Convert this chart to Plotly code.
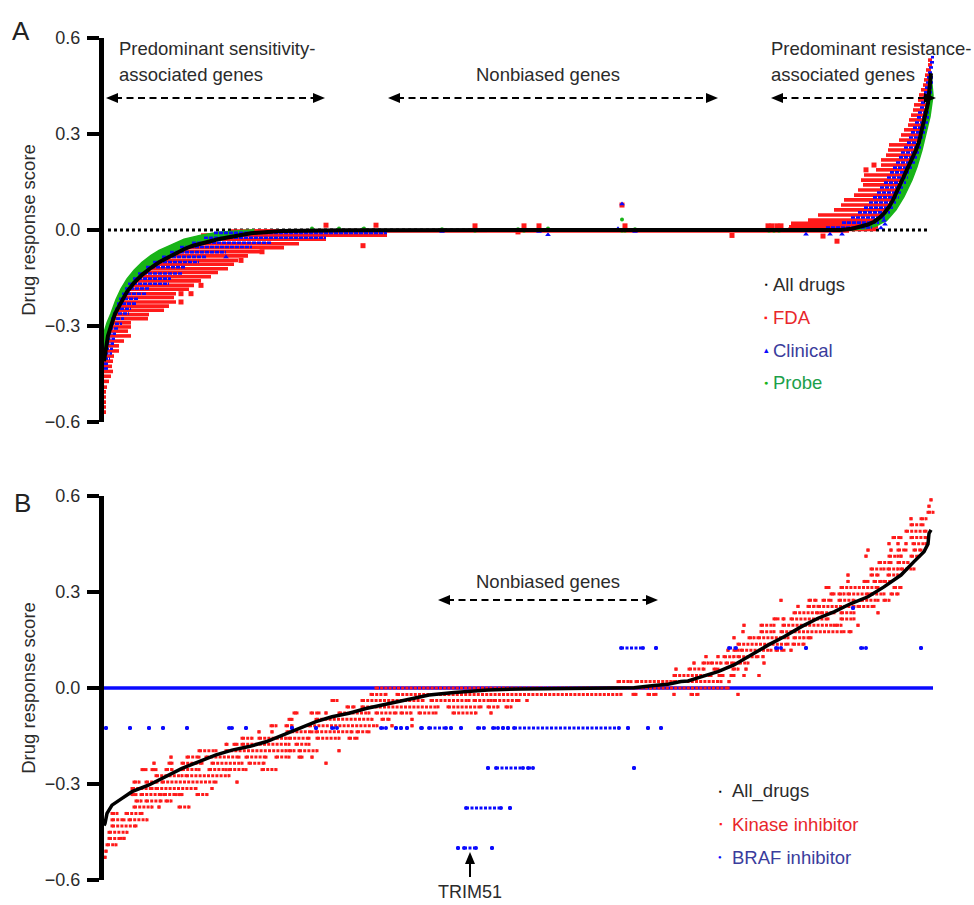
import plotly.graph_objects as go

# ======================= DATA =======================
# ---- Panel A: all drugs curve (gene rank vs drug response score) ----
ALL_A_RANK = [0, 1, 2, 4, 7, 11, 17, 23, 30, 38, 47, 55, 64, 72, 80, 88, 97, 105, 114, 122,
              130, 147, 164, 177, 240, 295, 400, 600, 737, 748, 757, 764, 770, 775, 780, 785,
              789, 793, 797, 801, 805, 809, 812, 815, 817, 820, 822, 824, 825, 826, 827]
ALL_A_SCORE = [-0.41, -0.385, -0.36, -0.33, -0.3, -0.262, -0.227, -0.193, -0.165, -0.14, -0.118,
               -0.101, -0.086, -0.072, -0.06, -0.05, -0.042, -0.035, -0.029, -0.024, -0.019,
               -0.01, -0.006, -0.003, -0.001, 0.0, 0.0, 0.0, 0.0, 0.004, 0.010, 0.017, 0.026,
               0.037, 0.052, 0.072, 0.094, 0.12, 0.146, 0.172, 0.198, 0.224, 0.25, 0.276, 0.302,
               0.334, 0.365, 0.396, 0.427, 0.46, 0.49]

# FDA drugs: rows of scores spanning a rank interval (sensitivity side)
FDA_SENS_LEVEL = [-0.003, -0.016, -0.029, -0.043, -0.055, -0.068, -0.081, -0.095, -0.107, -0.121,
                  -0.133, -0.146, -0.159, -0.173, -0.185, -0.199, -0.211, -0.225, -0.238, -0.251,
                  -0.264, -0.277, -0.290, -0.303, -0.316, -0.331, -0.347, -0.362, -0.378, -0.394,
                  -0.410, -0.426, -0.442, -0.457, -0.473, -0.491, -0.506, -0.522, -0.538, -0.553,
                  -0.569]
FDA_SENS_START = [127, 97, 87, 75, 69, 62, 55, 50, 44, 39, 35, 32, 29, 25, 23, 20, 18, 15, 14, 12,
                  10, 9, 7, 6, 5, 4, 3, 2, 2, 1, 0, 0, 0, 0, 0, 0, 0, 0, 0, 0, 0]
FDA_SENS_END = [283, 283, 222, 195, 180, 157, 144, 134, 130, 124, 114, 107, 97, 90, 85, 72, 70, 72,
                65, 60, 45, 44, 27, 27, 24, 27, 20, 15, 15, 10, 9, 8, 9, 7, 5, 3, 2, 2, 2, 2, 2]
# FDA drugs: resistance side
FDA_RES_LEVEL = [0.531, 0.516, 0.500, 0.484, 0.469, 0.453, 0.438, 0.422, 0.406, 0.391, 0.375,
                 0.359, 0.344, 0.328, 0.313, 0.297, 0.281, 0.266, 0.250, 0.234, 0.219, 0.203,
                 0.188, 0.172, 0.156, 0.141, 0.125, 0.109, 0.094, 0.078, 0.063, 0.047, 0.031,
                 0.021, 0.010, 0.002]
FDA_RES_START = [824, 824, 822, 821, 820, 819, 817, 815, 814, 810, 809, 807, 805, 804, 800, 797,
                 795, 785, 784, 782, 777, 777, 772, 760, 757, 759, 754, 750, 740, 737, 730, 714,
                 704, 687, 685, 684]
FDA_RES_END = [828, 828, 827, 827, 826, 826, 825, 825, 824, 824, 823, 822, 821, 820, 818, 817,
               815, 814, 812, 810, 808, 806, 803, 801, 798, 796, 793, 791, 789, 786, 783, 778,
               775, 775, 774, 772]
FDA_ZERO_START, FDA_ZERO_END = 150, 745
FDA_DOT_RANK = [158, 137, 97, 77, 87, 77, 259, 222, 272, 371, 414, 420, 435, 518, 521, 628, 664,
                668, 673, 677, 719, 733, 762, 770]
FDA_DOT_SCORE = [-0.068, -0.095, -0.173, -0.199, -0.199, -0.225, -0.049, 0.015, 0.015, 0.013,
                 -0.006, 0.013, 0.013, 0.078, 0.013, -0.017, 0.013, 0.013, 0.013, 0.013, -0.019,
                 -0.035, 0.188, 0.203]

# Clinical drugs
CLIN_SENS_LEVEL = [-0.009, -0.024, -0.040, -0.053, -0.069, -0.084, -0.100, -0.116, -0.136, -0.152,
                   -0.168, -0.183, -0.199, -0.215, -0.230, -0.246, -0.261, -0.277, -0.293, -0.308,
                   -0.324, -0.340, -0.355, -0.371, -0.386, -0.402, -0.418, -0.433]
CLIN_SENS_START = [110, 100, 88, 76, 66, 58, 49, 42, 34, 29, 24, 21, 18, 15, 13, 11, 9, 7, 6, 5,
                   3.5, 2.5, 1.5, 1, 0.5, 0, 0, 0]
CLIN_SENS_END = [283, 222, 168, 148, 122, 102, 95, 82, 78, 67, 65, 45, 42, 35, 32, 27, 25, 20, 18,
                 15, 12, 11, 10, 9, 8, 6, 5, 4]
CLIN_RES_LEVEL = [0.540, 0.524, 0.508, 0.492, 0.477, 0.461, 0.445, 0.430, 0.414, 0.398, 0.383,
                  0.367, 0.352, 0.336, 0.320, 0.305, 0.289, 0.273, 0.258, 0.242, 0.227, 0.211,
                  0.195, 0.180, 0.164, 0.148, 0.133, 0.117, 0.102, 0.086, 0.070, 0.055, 0.039,
                  0.023, 0.008]
CLIN_RES_START = [827, 826, 825, 824, 823, 822, 821, 820, 819, 817, 816, 814, 813, 811, 809, 807,
                  805, 803, 800, 797, 795, 792, 789, 786, 783, 780, 776, 773, 769, 765, 760, 754,
                  747, 738, 722]
CLIN_RES_END = [830, 830, 830, 829, 829, 829, 828, 828, 828, 827, 826, 825, 825, 824, 822, 821,
                820, 818, 817, 815, 813, 811, 809, 806, 804, 802, 799, 797, 795, 792, 789, 786,
                782, 775, 768]
CLIN_DOT_RANK = [122, 338, 435, 444, 518, 514, 531, 702, 726, 738, 777, 780, 781]
CLIN_DOT_SCORE = [-0.084, -0.005, -0.005, -0.015, 0.081, 0.004, -0.005, -0.013, -0.013, -0.013,
                  0.006, 0.030, 0.018]

# Probe drugs: band edges next to the curve, plus scattered points
PROBE_SENS_RANK = [0, 3, 7, 12, 17, 23, 30, 38, 47, 55, 64, 72, 80, 97, 114, 150]
PROBE_SENS_SCORE = [-0.32, -0.29, -0.26, -0.217, -0.184, -0.153, -0.126, -0.101, -0.079, -0.064,
                    -0.051, -0.039, -0.029, -0.016, -0.007, 0.001]
PROBE_RES_RANK = [745, 762, 772, 783, 792, 800, 808, 813, 818, 822, 826, 829]
PROBE_RES_SCORE = [0.0, 0.004, 0.012, 0.031, 0.063, 0.104, 0.156, 0.198, 0.25, 0.302, 0.354, 0.42]
PROBE_DOT_RANK = [208, 235, 260, 234, 259, 338, 371, 414, 420, 444, 518, 518, 521, 531, 628, 665,
                  670, 675]
PROBE_DOT_SCORE = [0.005, 0.005, 0.005, 0.0, 0.002, 0.002, -0.002, 0.002, -0.002, 0.005, 0.033,
                   -0.002, -0.002, 0.002, 0.0, -0.002, -0.002, -0.002]

# ---- Panel B ----
ALL_B_RANK = [0, 1, 3, 8, 18, 28, 45, 62, 78, 95, 112, 128, 145, 162, 178, 195, 212, 228, 245,
              262, 278, 295, 312, 325, 350, 384, 417, 450, 484, 517, 530, 550, 564, 577, 584, 597,
              614, 630, 647, 664, 680, 697, 714, 730, 747, 764, 780, 797, 810, 820, 824, 825, 827]
ALL_B_SCORE = [-0.43, -0.423, -0.392, -0.366, -0.345, -0.324, -0.303, -0.277, -0.251, -0.23,
               -0.209, -0.194, -0.183, -0.168, -0.147, -0.126, -0.105, -0.09, -0.079, -0.064,
               -0.053, -0.043, -0.032, -0.022, -0.014, -0.006, -0.003, -0.002, -0.002, 0.0,
               0.001, 0.008, 0.012, 0.02, 0.022, 0.035, 0.051, 0.072, 0.103, 0.134, 0.16, 0.191,
               0.218, 0.238, 0.264, 0.285, 0.316, 0.353, 0.395, 0.426, 0.45, 0.483, 0.494]

# Kinase inhibitors: (score level, [rank intervals])
KINASE_ROWS = [
    (0.588, [(827, 827)]),
    (0.568, [(825, 825)]),
    (0.549, [(824, 829)]),
    (0.529, [(807, 807), (817, 822)]),
    (0.510, [(807, 819)]),
    (0.490, [(802, 822)]),
    (0.470, [(789, 797), (807, 822)]),
    (0.451, [(785, 785), (794, 794), (802, 802), (809, 822)]),
    (0.431, [(764, 764), (787, 787), (794, 802), (810, 817)]),
    (0.412, [(762, 762), (785, 794), (797, 797), (807, 815)]),
    (0.392, [(775, 787), (794, 804)]),
    (0.372, [(767, 780), (784, 794), (797, 810)]),
    (0.353, [(744, 744), (767, 774), (784, 794)]),
    (0.333, [(744, 744), (760, 764), (770, 777), (780, 787)]),
    (0.314, [(722, 725), (737, 774), (790, 797)]),
    (0.294, [(727, 730), (735, 740), (744, 764), (767, 780), (787, 794)]),
    (0.274, [(677, 677), (705, 712), (719, 727), (735, 750), (757, 774), (780, 785)]),
    (0.255, [(694, 694), (704, 710), (714, 750), (754, 770)]),
    (0.235, [(690, 714), (717, 730), (737, 750), (774, 774)]),
    (0.216, [(670, 674), (679, 680), (687, 724), (737, 750)]),
    (0.196, [(640, 640), (657, 670), (679, 730), (732, 737), (754, 754)]),
    (0.176, [(639, 639), (657, 670), (677, 740), (745, 747)]),
    (0.157, [(630, 630), (645, 650), (654, 684), (690, 700), (704, 707)]),
    (0.137, [(634, 684), (689, 700)]),
    (0.118, [(624, 624), (630, 634), (637, 667), (672, 680), (687, 687)]),
    (0.098, [(602, 602), (614, 614), (620, 630), (634, 654), (659, 659)]),
    (0.078, [(590, 590), (599, 604), (607, 617), (622, 630), (635, 644), (660, 660)]),
    (0.059, [(572, 572), (585, 600), (610, 614), (629, 634), (642, 642)]),
    (0.039, [(570, 607), (615, 619), (627, 630), (640, 640), (655, 655)]),
    (0.020, [(514, 527), (532, 567), (570, 617), (625, 625)]),
    (0.000, [(272, 624)]),
    (-0.020, [(267, 282), (293, 517), (529, 532), (544, 552), (570, 570), (587, 594), (634, 634)]),
    (-0.039, [(228, 233), (258, 319), (327, 365), (370, 387), (390, 415), (423, 423)]),
    (-0.059, [(243, 250), (258, 334), (344, 377), (384, 394), (402, 407)]),
    (-0.078, [(190, 193), (207, 215), (222, 222), (235, 265), (272, 292), (297, 307), (315, 332),
              (349, 372), (387, 387)]),
    (-0.098, [(185, 188), (212, 268), (278, 285), (308, 308)]),
    (-0.118, [(167, 172), (182, 188), (205, 273), (288, 288), (308, 308)]),
    (-0.137, [(155, 155), (168, 168), (183, 208), (212, 248), (253, 265)]),
    (-0.157, [(138, 148), (155, 182), (185, 205), (213, 235), (245, 253)]),
    (-0.176, [(122, 123), (130, 133), (138, 185), (192, 205)]),
    (-0.196, [(95, 112), (122, 182), (185, 190), (195, 213), (235, 235)]),
    (-0.216, [(67, 67), (83, 95), (102, 135), (142, 162), (172, 185), (195, 198), (208, 208)]),
    (-0.235, [(50, 50), (65, 68), (78, 98), (108, 138), (145, 160), (222, 222)]),
    (-0.255, [(38, 42), (48, 52), (62, 68), (78, 95), (105, 122), (125, 142), (158, 172)]),
    (-0.274, [(52, 78), (82, 125)]),
    (-0.294, [(30, 35), (42, 53), (58, 112), (133, 133)]),
    (-0.314, [(28, 48), (52, 92), (108, 108)]),
    (-0.333, [(28, 32), (37, 57), (60, 72), (75, 78), (93, 103)]),
    (-0.353, [(32, 37), (42, 57), (62, 67)]),
    (-0.372, [(30, 48), (55, 55), (75, 85)]),
    (-0.392, [(8, 13), (22, 38)]),
    (-0.412, [(8, 20), (25, 43)]),
    (-0.431, [(8, 32)]),
    (-0.451, [(5, 23)]),
    (-0.470, [(5, 17), (20, 20)]),
    (-0.490, [(3, 12)]),
    (-0.510, [(2, 2)]),
    (-0.529, [(1, 1)]),
]

# BRAF inhibitors
BRAF_ZERO_START, BRAF_ZERO_END = 0, 829
BRAF_ROWS = [
    (0.250, [(749, 749)]),
    (0.125, [(517, 539), (552, 552), (625, 632), (672, 677), (702, 702), (757, 762), (817, 817)]),
    (-0.125, [(2, 2), (26, 26), (45, 45), (59, 59), (83, 83), (125, 128), (142, 142), (188, 188),
              (212, 212), (228, 233), (277, 282), (292, 292), (297, 297), (303, 303), (317, 318),
              (325, 342), (347, 347), (357, 357), (374, 380), (389, 394), (399, 399), (404, 404),
              (410, 515), (524, 524), (544, 544), (557, 557)]),
    (-0.250, [(384, 384), (392, 419), (424, 429), (530, 530)]),
    (-0.375, [(362, 397), (406, 406)]),
    (-0.500, [(354, 354), (360, 372), (388, 388)]),
]

Y_TICKS = [-0.6, -0.3, 0.0, 0.3, 0.6]
Y_TICK_TEXT = ["\u22120.6", "\u22120.3", "0.0", "0.3", "0.6"]

# ======================= HELPERS =======================
FONT = "Liberation Sans, Arial, Helvetica, sans-serif"
RED = "#ff1a1a"
BLUE = "#0a0aff"
GREEN = "#18b418"
TXT = "#2b2b2b"

W, H = 974, 905
L, R, T, B = 104, 38, 38, 25
PW, PH = W - L - R, H - T - B


def px2x(px):
    return (px - L) / PW


def py2y(py):
    return 1 - (py - T) / PH


def seg_xy(levels, starts, ends):
    xs, ys = [], []
    for lv, s, e in zip(levels, starts, ends):
        xs += [s, e, None]
        ys += [lv, lv, None]
    return xs, ys


def rows_xy(rows):
    xs, ys = [], []
    for lv, segs in rows:
        for a, b in segs:
            xs += [a, b, None]
            ys += [lv, lv, None]
    return xs, ys


def band(edge_r, edge_s, cur_r, cur_s, lo, hi):
    pts = [(r, s) for r, s in zip(cur_r, cur_s) if lo <= r <= hi]
    xs = list(edge_r) + [p[0] for p in reversed(pts)]
    ys = list(edge_s) + [p[1] for p in reversed(pts)]
    return xs, ys


fig = go.Figure()

# ======================= PANEL A =======================
A = dict(xaxis="x", yaxis="y")
fig.add_trace(go.Scatter(x=[4, 826], y=[0, 0], mode="lines",
                         line=dict(color="black", width=3, dash="3px,3px"), **A))
x, y = seg_xy(FDA_SENS_LEVEL, FDA_SENS_START, FDA_SENS_END)
x2, y2 = seg_xy(FDA_RES_LEVEL, FDA_RES_START, FDA_RES_END)
x3, y3 = seg_xy([-0.003], [FDA_ZERO_START], [FDA_ZERO_END])
fig.add_trace(go.Scatter(x=x + x2 + x3, y=y + y2 + y3, mode="lines",
                         line=dict(color=RED, width=3.6), connectgaps=False, **A))
fig.add_trace(go.Scatter(x=FDA_DOT_RANK, y=FDA_DOT_SCORE, mode="markers",
                         marker=dict(color=RED, symbol="square", size=5, line=dict(width=0)), **A))
bx, by = band(PROBE_SENS_RANK, PROBE_SENS_SCORE, ALL_A_RANK, ALL_A_SCORE, 0, 150)
fig.add_trace(go.Scatter(x=bx, y=by, mode="lines", fill="toself", fillcolor=GREEN,
                         line=dict(color=GREEN, width=1.5), **A))
bx, by = band(PROBE_RES_RANK, PROBE_RES_SCORE, ALL_A_RANK, ALL_A_SCORE, 745, 830)
fig.add_trace(go.Scatter(x=bx, y=by, mode="lines", fill="toself", fillcolor=GREEN,
                         line=dict(color=GREEN, width=1.5), **A))
fig.add_trace(go.Scatter(x=PROBE_DOT_RANK, y=PROBE_DOT_SCORE, mode="markers",
                         marker=dict(color=GREEN, symbol="circle", size=4, line=dict(width=0)), **A))
x, y = seg_xy(CLIN_SENS_LEVEL, CLIN_SENS_START, CLIN_SENS_END)
x2, y2 = seg_xy(CLIN_RES_LEVEL, CLIN_RES_START, CLIN_RES_END)
fig.add_trace(go.Scatter(x=x + x2, y=y + y2, mode="lines",
                         line=dict(color=BLUE, width=2.6, dash="4px,1px"), connectgaps=False, **A))
fig.add_trace(go.Scatter(x=CLIN_DOT_RANK, y=CLIN_DOT_SCORE, mode="markers",
                         marker=dict(color=BLUE, symbol="triangle-up", size=5, line=dict(width=0)), **A))
fig.add_trace(go.Scatter(x=ALL_A_RANK, y=ALL_A_SCORE, mode="lines",
                         line=dict(color="black", width=4), **A))

# ======================= PANEL B =======================
Bx = dict(xaxis="x2", yaxis="y2")
fig.add_trace(go.Scatter(x=[BRAF_ZERO_START, BRAF_ZERO_END], y=[0, 0], mode="lines",
                         line=dict(color=BLUE, width=3.5), **Bx))
x, y = rows_xy(KINASE_ROWS)
fig.add_trace(go.Scatter(x=x, y=y, mode="lines+markers", connectgaps=False,
                         line=dict(color=RED, width=3, dash="3px,1.2px"),
                         marker=dict(color=RED, symbol="square", size=3, line=dict(width=0)), **Bx))
x, y = rows_xy(BRAF_ROWS)
fig.add_trace(go.Scatter(x=x, y=y, mode="lines+markers", connectgaps=False,
                         line=dict(color=BLUE, width=3, dash="3px,1.5px"),
                         marker=dict(color=BLUE, symbol="circle", size=4, line=dict(width=0)), **Bx))
fig.add_trace(go.Scatter(x=ALL_B_RANK, y=ALL_B_SCORE, mode="lines",
                         line=dict(color="black", width=3.5), **Bx))

# ======================= AXES =======================
h_a = 384 / PH
yax = dict(range=[-0.6, 0.6], tickvals=Y_TICKS, ticktext=Y_TICK_TEXT, showline=True,
           linewidth=5, linecolor="black", ticks="outside", ticklen=12, tickwidth=4,
           tickcolor="black", showgrid=False, zeroline=False, fixedrange=True,
           tickfont=dict(family=FONT, size=18, color=TXT), ticklabelstandoff=3,
           title=dict(text="Drug response score", font=dict(family=FONT, size=18.5, color=TXT),
                      standoff=6))
xax = dict(range=[0, 832], visible=False, showgrid=False, zeroline=False)
fig.update_layout(
    width=W, height=H, margin=dict(l=L, r=R, t=T, b=B),
    paper_bgcolor="white", plot_bgcolor="white", showlegend=False,
    xaxis=dict(xax, anchor="y"), yaxis=dict(yax, domain=[1 - h_a, 1], anchor="x"),
    xaxis2=dict(xax, anchor="y2"), yaxis2=dict(yax, domain=[0, h_a], anchor="x2"),
    font=dict(family=FONT, color=TXT),
)

# ======================= ANNOTATIONS =======================
ann = []
shapes = []
FS = 18.5


def text(px, py, s, size=FS, color=TXT, xanchor="left"):
    ann.append(dict(x=px2x(px), y=py2y(py), xref="paper", yref="paper", text=s,
                    showarrow=False, xanchor=xanchor, yanchor="middle",
                    font=dict(family=FONT, size=size, color=color)))


def dashed_arrow(x1, x2, py):
    shapes.append(dict(type="line", xref="paper", yref="paper",
                       x0=px2x(x1 + 9), x1=px2x(x2 - 9), y0=py2y(py), y1=py2y(py),
                       line=dict(color="black", width=2, dash="7px,4.5px")))
    for tip, d in ((x1, 1), (x2, -1)):
        pts = [(tip, py), (tip + d * 12, py - 5), (tip + d * 12, py + 5)]
        path = "M " + " L ".join(f"{px2x(a):.5f},{py2y(b):.5f}" for a, b in pts) + " Z"
        shapes.append(dict(type="path", xref="paper", yref="paper", path=path,
                           fillcolor="black", line=dict(color="black", width=0)))


# panel letters
text(10, 31, "A", size=26, color="#222")
text(12, 503, "B", size=26, color="#222")

# panel A headers
text(117, 48, "Predominant sensitivity-")
text(117, 74, "associated genes")
text(548, 74, "Nonbiased genes", xanchor="center")
text(769, 48, "Predominant resistance-")
text(769, 74, "associated genes")
dashed_arrow(106, 325, 98)
dashed_arrow(388, 718, 98)
dashed_arrow(771, 936, 98)

# panel B header
text(548, 581, "Nonbiased genes", xanchor="center")
dashed_arrow(438, 658, 600)

# TRIM51 arrow + label
shapes.append(dict(type="line", xref="paper", yref="paper", x0=px2x(470), x1=px2x(470),
                   y0=py2y(877), y1=py2y(862), line=dict(color="black", width=2)))
pts = [(470, 852), (465, 864), (475, 864)]
shapes.append(dict(type="path", xref="paper", yref="paper",
                   path="M " + " L ".join(f"{px2x(a):.5f},{py2y(b):.5f}" for a, b in pts) + " Z",
                   fillcolor="black", line=dict(width=0)))
text(470, 892, "TRIM51", size=18, xanchor="center")

# legends (panel A)
legA = [("\u25aa", "black", 8, "All drugs", TXT),
        ("\u25aa", RED, 10, "FDA", "#e8262b"),
        ("\u25b4", BLUE, 9, "Clinical", "#3a3c9c"),
        ("\u25cf", GREEN, 7, "Probe", "#1ca04a")]
for i, (g, gc, gs, t, tc) in enumerate(legA):
    yy = 284 + 33 * i
    text(766, yy, g, size=gs, color=gc, xanchor="center")
    text(771, yy, t, color=tc)

legB = [("\u25aa", "black", 8, "All_drugs", TXT),
        ("\u25aa", RED, 9, "Kinase inhibitor", "#e8262b"),
        ("\u25cf", BLUE, 6, "BRAF inhibitor", "#3a3c9c")]
for i, (g, gc, gs, t, tc) in enumerate(legB):
    yy = 791 + 33 * i
    text(720, yy, g, size=gs, color=gc, xanchor="center")
    text(730, yy, t, color=tc)

fig.update_layout(annotations=ann, shapes=shapes)
fig.write_html("out.html")
